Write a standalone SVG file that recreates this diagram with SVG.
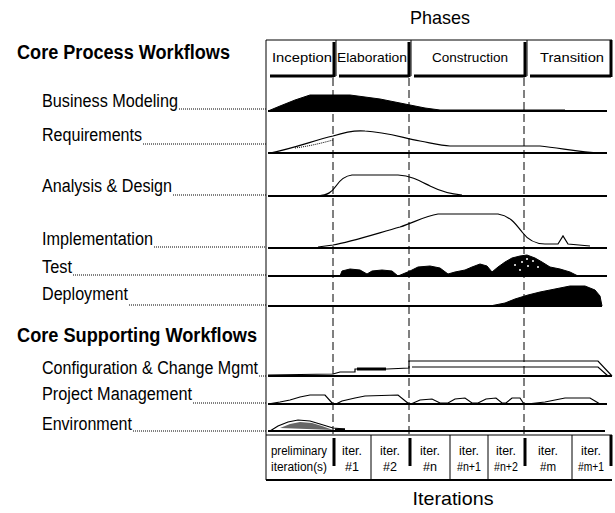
<svg xmlns="http://www.w3.org/2000/svg" width="615" height="513" viewBox="0 0 615 513">
<defs>
<style>
text{font-family:"Liberation Sans",Arial,sans-serif;fill:#000}
.lbl{font-size:18px}
.hdr{font-size:20px;font-weight:bold}
.ph{font-size:13px;text-anchor:middle}
.it{font-size:12px;text-anchor:middle}
.ttl{font-size:19px;text-anchor:middle}
.thin{stroke:#000;stroke-width:1;fill:none}
.base{stroke:#000;stroke-width:2;fill:none}
.shadow{stroke:#000;stroke-width:3;fill:none}
.dash{stroke:#000;stroke-width:1;fill:none;stroke-dasharray:8,4}
.lead{stroke:#000;stroke-width:1;fill:none;stroke-dasharray:1,1}
.curve{stroke:#000;stroke-width:1.2;fill:none}
.fill{fill:#000;stroke:#000;stroke-width:1}
</style>
</defs>
<rect width="615" height="513" fill="#fff"/>

<text class="ttl" x="440" y="24" textLength="60" lengthAdjust="spacingAndGlyphs">Phases</text>
<text class="ttl" x="453" y="505" textLength="81" lengthAdjust="spacingAndGlyphs">Iterations</text>

<g id="frame">
<line class="thin" x1="266" y1="40" x2="612" y2="40"/>
<line class="thin" x1="266" y1="40" x2="266" y2="480"/>
<line class="base" x1="266" y1="480" x2="612" y2="480"/>
</g>

<g id="phases">
<g id="phase-inception">
<line class="shadow" x1="270" y1="76" x2="334" y2="76"/>
<line class="shadow" x1="334" y1="42" x2="334" y2="77"/>
<text class="ph" x="302" y="62" textLength="60" lengthAdjust="spacingAndGlyphs">Inception</text>
</g>
<g id="phase-elaboration">
<line class="thin" x1="336" y1="40" x2="336" y2="76"/>
<line class="shadow" x1="339" y1="76" x2="409" y2="76"/>
<line class="shadow" x1="409" y1="42" x2="409" y2="77"/>
<text class="ph" x="372" y="62" textLength="70" lengthAdjust="spacingAndGlyphs">Elaboration</text>
</g>
<g id="phase-construction">
<line class="thin" x1="411" y1="40" x2="411" y2="76"/>
<line class="shadow" x1="414" y1="76" x2="525" y2="76"/>
<line class="shadow" x1="525" y1="42" x2="525" y2="77"/>
<text class="ph" x="470" y="62" textLength="76" lengthAdjust="spacingAndGlyphs">Construction</text>
</g>
<g id="phase-transition">
<line class="thin" x1="527" y1="40" x2="527" y2="76"/>
<line class="shadow" x1="530" y1="76" x2="611" y2="76"/>
<line class="shadow" x1="611" y1="40" x2="611" y2="77"/>
<text class="ph" x="572" y="62" textLength="64" lengthAdjust="spacingAndGlyphs">Transition</text>
</g>
</g>

<g id="headers">
<text class="hdr" x="17" y="59" textLength="213" lengthAdjust="spacingAndGlyphs">Core Process Workflows</text>
<text class="hdr" x="17" y="342" textLength="240" lengthAdjust="spacingAndGlyphs">Core Supporting Workflows</text>
</g>

<g id="connectors">
<line class="dash" x1="333" y1="78" x2="333" y2="436"/>
<line class="dash" x1="409" y1="78" x2="409" y2="436"/>
<line class="dash" x1="524" y1="78" x2="524" y2="436"/>
<line class="lead" x1="179" y1="109" x2="266" y2="109"/>
<line class="lead" x1="143" y1="144" x2="266" y2="144"/>
<line class="lead" x1="173" y1="195" x2="266" y2="195"/>
<line class="lead" x1="154" y1="247" x2="266" y2="247"/>
<line class="lead" x1="73" y1="275" x2="266" y2="275"/>
<line class="lead" x1="129" y1="305" x2="266" y2="305"/>
<line class="lead" x1="259" y1="376" x2="266" y2="376"/>
<line class="lead" x1="193" y1="403" x2="266" y2="403"/>
<line class="lead" x1="133" y1="431" x2="266" y2="431"/>
</g>

<g id="business-modeling">
<text class="lbl" x="42" y="107" textLength="136" lengthAdjust="spacingAndGlyphs">Business Modeling</text>
<path class="fill" d="M268,111 L280,106 L295,100 L310,95 L350,95 L380,99 L405,104 L425,108 L440,110 L565,110 L565,111 Z"/>
<line class="base" x1="268" y1="111" x2="607" y2="111"/>
</g>

<g id="requirements">
<text class="lbl" x="42" y="141" textLength="100" lengthAdjust="spacingAndGlyphs">Requirements</text>
<path class="curve" d="M270,153 C295,148 315,140 333,136 C345,132 355,130 365,131 C385,132 400,137 420,141 C435,144 442,146 450,146 L540,146 C560,148 580,152 600,153"/>
<path class="lead" d="M295,148 C310,146 322,143 333,140"/>
<line class="base" x1="268" y1="153" x2="607" y2="153"/>
</g>

<g id="analysis-design">
<text class="lbl" x="42" y="192" textLength="130" lengthAdjust="spacingAndGlyphs">Analysis &amp; Design</text>
<path class="curve" d="M318,196 C328,195 332,192 336,186 C340,180 344,176 352,175 L398,175 C412,176 420,181 430,186 C440,191 450,194 462,195"/>
<line class="base" x1="268" y1="196" x2="607" y2="196"/>
</g>

<g id="implementation">
<text class="lbl" x="42" y="245" textLength="111" lengthAdjust="spacingAndGlyphs">Implementation</text>
<path class="curve" d="M318,247 L333,245 C350,242 375,234 400,227 C415,222 425,216 438,214 L498,214 C510,216 515,223 522,232 C528,240 535,244 545,244 L558,244 L563,236 L568,244 L590,246"/>
<line class="base" x1="268" y1="248" x2="607" y2="248"/>
</g>

<g id="test">
<text class="lbl" x="42" y="273" textLength="30" lengthAdjust="spacingAndGlyphs">Test</text>
<path class="fill" d="M340,276 L342,271 L350,269 L360,270 L367,274 L372,271 L382,270 L392,271 L398,276 L410,271 L418,267 L430,266 L440,268 L448,274 L455,272 L465,270 L472,267 L480,264 L487,266 L492,272 L498,267 L505,262 L512,258 L520,256 L527,255 L535,258 L542,262 L550,267 L560,269 L570,272 L578,276 Z"/>
<g fill="#fff">
<circle cx="515" cy="265" r="1"/><circle cx="522" cy="262" r="1"/><circle cx="528" cy="266" r="1"/><circle cx="533" cy="261" r="1"/><circle cx="538" cy="267" r="1"/><circle cx="520" cy="270" r="1"/><circle cx="527" cy="259" r="1"/>
</g>
<line class="base" x1="268" y1="276" x2="607" y2="276"/>
</g>

<g id="deployment">
<text class="lbl" x="42" y="300" textLength="86" lengthAdjust="spacingAndGlyphs">Deployment</text>
<path class="fill" d="M490,306 L505,303 L515,299 L528,295 L540,292 L555,289 L570,286 L585,286 L595,290 L600,296 L602,306 Z"/>
<line class="base" x1="268" y1="306" x2="602" y2="306"/>
</g>

<g id="config-change-mgmt">
<text class="lbl" x="42" y="374" textLength="216" lengthAdjust="spacingAndGlyphs">Configuration &amp; Change Mgmt</text>
<path class="curve" d="M268,375 L333,374 L340,372 L355,372 L355,369 L387,369 L409,368 L409,361 L598,361 L612,376"/>
<line class="shadow" x1="357" y1="369" x2="386" y2="369"/>
<path class="curve" d="M412,367 L598,367 L608,376"/>
<line class="base" x1="268" y1="376" x2="612" y2="376"/>
</g>

<g id="project-management">
<text class="lbl" x="42" y="400" textLength="150" lengthAdjust="spacingAndGlyphs">Project Management</text>
<path class="curve" d="M268,404 L280,402 L290,400 L300,397 L310,395 L325,395 L333,404 M336,404 L342,401 L355,398 L365,396 L398,395 L409,404 M411,404 L420,400 L432,399 L440,403 L448,403 L455,399 L465,398 L472,403 L478,403 L486,399 L496,398 L502,403 L506,403 L512,398 L520,398 L524,404 M527,404 L545,402 L555,400 L565,398 L590,398 L600,404"/>
<line class="base" x1="268" y1="404" x2="607" y2="404"/>
</g>

<g id="environment">
<text class="lbl" x="42" y="430" textLength="90" lengthAdjust="spacingAndGlyphs">Environment</text>
<path class="curve" d="M270,431 L278,426 L288,422 L298,420 L310,421 L320,424 L333,428 L345,429"/>
<path d="M280,428 L290,424 L300,422 L312,423 L322,426 L333,430 Z" fill="#000" opacity="0.6"/>
<line class="shadow" x1="335" y1="430" x2="345" y2="430"/>
<line class="lead" x1="345" y1="431" x2="420" y2="431"/>
<line class="base" x1="268" y1="431" x2="605" y2="431"/>
</g>

<g id="iterations">
<line class="thin" x1="266" y1="435" x2="612" y2="435"/>
<line class="shadow" x1="334" y1="438" x2="334" y2="466"/>
<line class="shadow" x1="410" y1="438" x2="410" y2="466"/>
<line class="shadow" x1="525" y1="438" x2="525" y2="466"/>
<line class="shadow" x1="611" y1="435" x2="611" y2="466"/>
<line class="thin" x1="371" y1="435" x2="371" y2="480"/>
<line class="thin" x1="450" y1="435" x2="450" y2="480"/>
<line class="thin" x1="488" y1="435" x2="488" y2="480"/>
<line class="thin" x1="572" y1="435" x2="572" y2="480"/>
<g id="iter-prelim"><text class="it" x="299" y="455" textLength="56" lengthAdjust="spacingAndGlyphs">preliminary</text><text class="it" x="299" y="471" textLength="56" lengthAdjust="spacingAndGlyphs">iteration(s)</text></g>
<g id="iter-1"><text class="it" x="352" y="455" textLength="20" lengthAdjust="spacingAndGlyphs">iter.</text><text class="it" x="352" y="471" textLength="14" lengthAdjust="spacingAndGlyphs">#1</text></g>
<g id="iter-2"><text class="it" x="390" y="455" textLength="20" lengthAdjust="spacingAndGlyphs">iter.</text><text class="it" x="390" y="471" textLength="14" lengthAdjust="spacingAndGlyphs">#2</text></g>
<g id="iter-n"><text class="it" x="430" y="455" textLength="20" lengthAdjust="spacingAndGlyphs">iter.</text><text class="it" x="430" y="471" textLength="14" lengthAdjust="spacingAndGlyphs">#n</text></g>
<g id="iter-n1"><text class="it" x="469" y="455" textLength="20" lengthAdjust="spacingAndGlyphs">iter.</text><text class="it" x="469" y="471" textLength="24" lengthAdjust="spacingAndGlyphs">#n+1</text></g>
<g id="iter-n2"><text class="it" x="506" y="455" textLength="20" lengthAdjust="spacingAndGlyphs">iter.</text><text class="it" x="506" y="471" textLength="24" lengthAdjust="spacingAndGlyphs">#n+2</text></g>
<g id="iter-m"><text class="it" x="548" y="455" textLength="20" lengthAdjust="spacingAndGlyphs">iter.</text><text class="it" x="548" y="471" textLength="16" lengthAdjust="spacingAndGlyphs">#m</text></g>
<g id="iter-m1"><text class="it" x="591" y="455" textLength="20" lengthAdjust="spacingAndGlyphs">iter.</text><text class="it" x="591" y="471" textLength="26" lengthAdjust="spacingAndGlyphs">#m+1</text></g>
</g>
</svg>
